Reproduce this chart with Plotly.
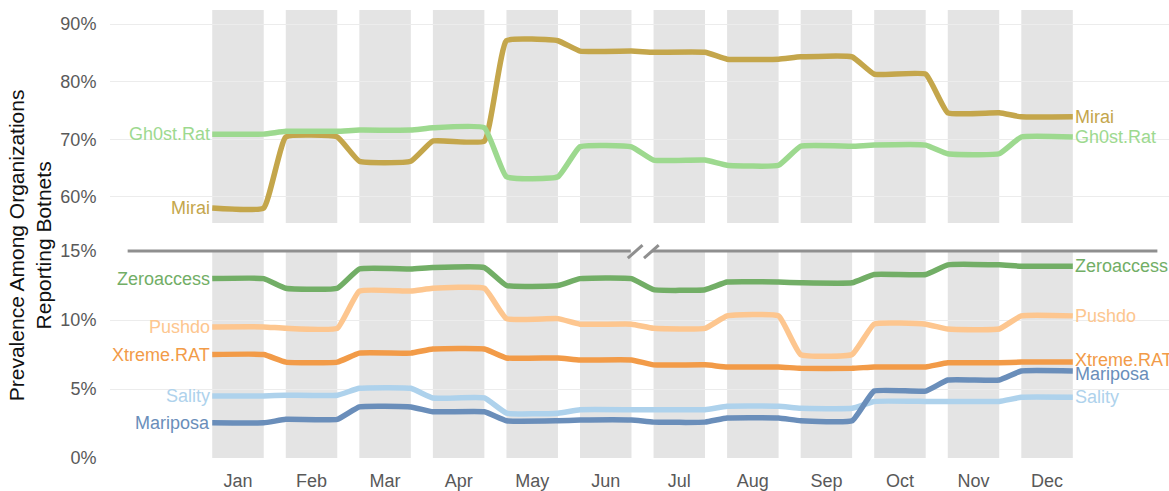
import plotly.graph_objects as go

months = ["Jan", "Feb", "Mar", "Apr", "May", "Jun", "Jul", "Aug", "Sep", "Oct", "Nov", "Dec"]

# top panel series (%)
mirai = [58.1, 70.4, 66.2, 69.7, 87.1, 85.3, 85.1, 83.9, 84.3, 81.3, 74.6, 73.9]
gh0st_rat = [70.9, 71.4, 71.6, 72.0, 63.5, 68.7, 66.4, 65.5, 68.8, 69.0, 67.5, 70.4]

# bottom panel series (%)
zeroaccess = [13.0, 12.3, 13.7, 13.8, 12.5, 13.0, 12.2, 12.75, 12.7, 13.3, 14.0, 13.9]
pushdo = [9.5, 9.4, 12.1, 12.3, 10.1, 9.7, 9.4, 10.3, 7.5, 9.7, 9.35, 10.3]
xtreme_rat = [7.5, 6.95, 7.6, 7.9, 7.25, 7.1, 6.75, 6.6, 6.5, 6.6, 6.9, 6.95]
sality = [4.5, 4.55, 5.05, 4.35, 3.25, 3.5, 3.5, 3.75, 3.6, 4.1, 4.1, 4.4]
mariposa = [2.55, 2.8, 3.7, 3.35, 2.7, 2.75, 2.6, 2.9, 2.7, 4.85, 5.65, 6.3]

top_ticks = [60, 70, 80, 90]
bottom_ticks = [0, 5, 10, 15]

series = [
    # name, values, axis, color, left yshift, right yshift
    ("Mirai", mirai, "y2", "#c4a64b", 0, 0),
    ("Gh0st.Rat", gh0st_rat, "y2", "#9dd98f", 0, 0),
    ("Zeroaccess", zeroaccess, "y", "#72ae66", 0, 0),
    ("Pushdo", pushdo, "y", "#fdc68f", 0, 0),
    ("Xtreme.RAT", xtreme_rat, "y", "#f29b48", 0, 2),
    ("Sality", sality, "y", "#aed2ec", 0, 0),
    ("Mariposa", mariposa, "y", "#6a8eba", 0, -3),
]

HALF = 0.35  # half width of month band
FONT = "Liberation Sans, Arial, Helvetica, sans-serif"

fig = go.Figure()
annotations = []
for name, vals, yax, color, lshift, rshift in series:
    xs, ys = [], []
    for i, v in enumerate(vals):
        xs += [i - HALF, i + HALF]
        ys += [v, v]
    fig.add_trace(go.Scatter(
        x=xs, y=ys, mode="lines", name=name, xaxis="x", yaxis=yax,
        line=dict(color=color, width=5.5, shape="spline", smoothing=0.35),
        showlegend=False, hoverinfo="skip",
    ))
    annotations.append(dict(x=-HALF, y=vals[0], xref="x", yref=yax, text=name,
                            showarrow=False, xanchor="right", yanchor="middle",
                            yshift=lshift, font=dict(size=18, color=color, family=FONT)))
    annotations.append(dict(x=len(vals) - 1 + HALF, y=vals[-1], xref="x", yref=yax, text=name,
                            showarrow=False, xanchor="left", yanchor="middle",
                            yshift=rshift, font=dict(size=18, color=color, family=FONT)))

TOP_RANGE = [55.49, 92.43]
BOT_RANGE = [0, 15]
BOT_DOM = [0, 0.462]
TOP_DOM = [0.5246, 1]

shapes = []
for i in range(len(months)):
    shapes.append(dict(type="rect", xref="x", yref="y2", x0=i - HALF, x1=i + HALF,
                       y0=TOP_RANGE[0], y1=TOP_RANGE[1], fillcolor="#e4e4e4",
                       line=dict(width=0), layer="below"))
    shapes.append(dict(type="rect", xref="x", yref="y", x0=i - HALF, x1=i + HALF,
                       y0=BOT_RANGE[0], y1=BOT_RANGE[1], fillcolor="#e4e4e4",
                       line=dict(width=0), layer="below"))

# broken axis line at top of bottom panel
yl = BOT_DOM[1]
brk_color = "#8f8f8f"
shapes.append(dict(type="line", xref="x", yref="paper", x0=-1.5, x1=5.34, y0=yl, y1=yl,
                   line=dict(color=brk_color, width=3), layer="above"))
shapes.append(dict(type="line", xref="x", yref="paper", x0=5.63, x1=12.5, y0=yl, y1=yl,
                   line=dict(color=brk_color, width=3), layer="above"))
shapes.append(dict(type="line", xref="x", yref="paper", x0=5.3, x1=5.5, y0=yl - 0.016, y1=yl + 0.013,
                   line=dict(color=brk_color, width=3), layer="above"))
shapes.append(dict(type="line", xref="x", yref="paper", x0=5.52, x1=5.72, y0=yl - 0.016, y1=yl + 0.013,
                   line=dict(color=brk_color, width=3), layer="above"))

annotations.append(dict(x=-0.0755, y=0.475, xref="paper", yref="paper",
                        text="Prevalence Among Organizations<br>Reporting Botnets",
                        textangle=-90, showarrow=False, xanchor="center", yanchor="middle",
                        font=dict(size=21, color="#111111", family=FONT)))

tick_font = dict(size=18, color="#595959", family=FONT)

fig.update_layout(
    width=1169, height=491,
    margin=dict(l=110, r=0, t=10, b=33, autoexpand=False),
    plot_bgcolor="white", paper_bgcolor="white",
    xaxis=dict(range=[-1.740, 12.658], tickvals=list(range(len(months))), ticktext=months,
               showgrid=False, zeroline=False, showline=False, ticks="outside",
               ticklen=6, tickcolor="rgba(0,0,0,0)", tickfont=tick_font, anchor="y",
               automargin=False),
    yaxis=dict(domain=BOT_DOM, range=BOT_RANGE, tickvals=bottom_ticks,
               ticktext=[f"{t}%" for t in bottom_ticks], showgrid=True, gridcolor="#ececec",
               gridwidth=1, zeroline=False, showline=False, tickfont=tick_font,
               ticks="outside", ticklen=9, tickcolor="rgba(0,0,0,0)", anchor="x",
               automargin=False),
    yaxis2=dict(domain=TOP_DOM, range=TOP_RANGE, tickvals=top_ticks,
                ticktext=[f"{t}%" for t in top_ticks], showgrid=True, gridcolor="#ececec",
                gridwidth=1, zeroline=False, showline=False, tickfont=tick_font,
                ticks="outside", ticklen=9, tickcolor="rgba(0,0,0,0)", anchor="x",
                automargin=False),
    shapes=shapes,
    annotations=annotations,
)

fig.write_html("out.html", config={"displayModeBar": False},
               post_script="document.body.style.margin='0';document.body.style.overflow='hidden';")
